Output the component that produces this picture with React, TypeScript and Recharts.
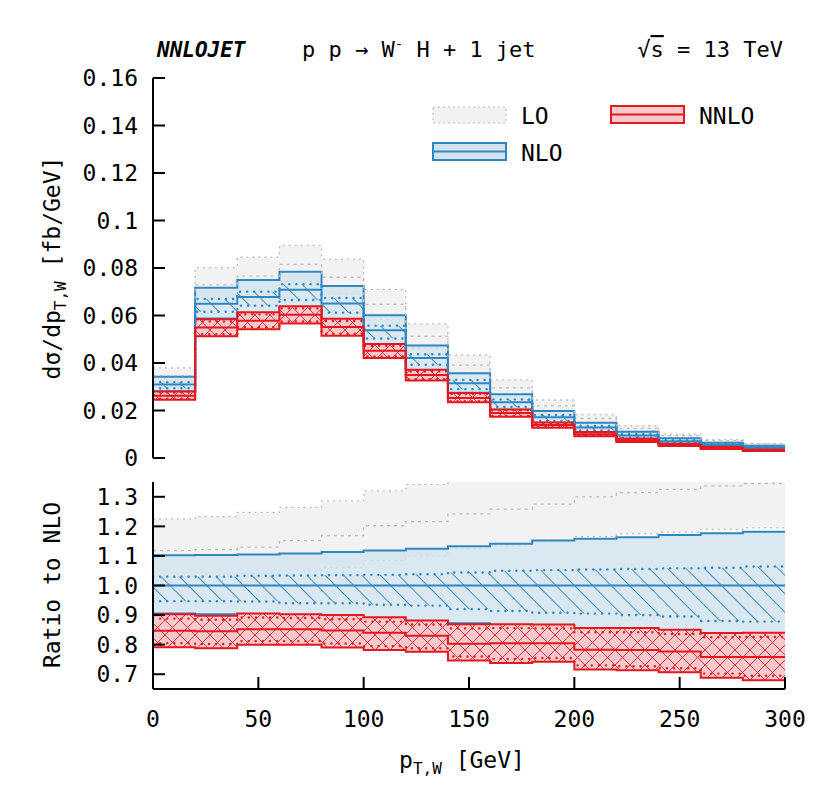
import React from 'react';
import { ComposedChart, Area, Line, XAxis, YAxis } from 'recharts';

// ---------------- data ----------------
const binEdges = [0, 20, 40, 60, 80, 100, 120, 140, 160, 180, 200, 220, 240, 260, 280, 300];
// NLO central value per bin [fb/GeV]
const nloCentral = [0.031, 0.065, 0.0678, 0.0708, 0.0651, 0.0538, 0.0421, 0.0315, 0.0235, 0.0172, 0.0128, 0.0095, 0.0071, 0.0055, 0.0044];
// everything below is a ratio to NLO central
const loUp = [1.225, 1.233, 1.247, 1.264, 1.286, 1.32, 1.342, 1.375, 1.4, 1.42, 1.43, 1.43, 1.42, 1.4, 1.38];
const loCen = [1.118, 1.121, 1.13, 1.152, 1.169, 1.202, 1.216, 1.242, 1.258, 1.275, 1.3, 1.314, 1.325, 1.337, 1.345];
const loLow = [1.03, 1.035, 1.04, 1.05, 1.06, 1.085, 1.1, 1.124, 1.135, 1.15, 1.165, 1.175, 1.18, 1.19, 1.195];
const nloUp = [1.102, 1.103, 1.105, 1.108, 1.113, 1.118, 1.124, 1.133, 1.141, 1.152, 1.158, 1.163, 1.171, 1.177, 1.182];
const nloLow = [0.905, 0.903, 0.9, 0.897, 0.893, 0.885, 0.879, 0.872, 0.866, 0.858, 0.853, 0.848, 0.84, 0.83, 0.823];
const nloInUp = [1.03, 1.03, 1.033, 1.034, 1.035, 1.036, 1.038, 1.044, 1.05, 1.052, 1.054, 1.056, 1.058, 1.06, 1.064];
const nloInLow = [0.947, 0.947, 0.946, 0.94, 0.94, 0.935, 0.932, 0.92, 0.914, 0.908, 0.905, 0.9, 0.895, 0.88, 0.878];
const nnloUp = [0.903, 0.898, 0.905, 0.903, 0.9, 0.893, 0.882, 0.869, 0.869, 0.868, 0.856, 0.856, 0.85, 0.839, 0.84];
const nnloCen = [0.847, 0.845, 0.852, 0.852, 0.848, 0.84, 0.83, 0.803, 0.805, 0.805, 0.783, 0.782, 0.777, 0.758, 0.758];
const nnloLow = [0.791, 0.788, 0.8, 0.8, 0.79, 0.782, 0.776, 0.746, 0.738, 0.742, 0.716, 0.713, 0.707, 0.688, 0.68];
const nnloInUp = [0.888, 0.884, 0.892, 0.89, 0.886, 0.878, 0.868, 0.855, 0.856, 0.855, 0.842, 0.842, 0.836, 0.825, 0.826];
const nnloInLow = [0.805, 0.802, 0.812, 0.812, 0.804, 0.795, 0.788, 0.76, 0.752, 0.755, 0.73, 0.727, 0.72, 0.702, 0.695];

const xTicks = [0, 50, 100, 150, 200, 250, 300];
const xLabels = ['0', '50', '100', '150', '200', '250', '300'];
const topTicks = [0, 0.02, 0.04, 0.06, 0.08, 0.1, 0.12, 0.14, 0.16];
const topLabels = ['0', '0.02', '0.04', '0.06', '0.08', '0.1', '0.12', '0.14', '0.16'];
const ratioTicks = [0.7, 0.8, 0.9, 1.0, 1.1, 1.2, 1.3];
const ratioLabels = ['0.7', '0.8', '0.9', '1.0', '1.1', '1.2', '1.3'];

// ---------------- styles ----------------
const FONT = '"DejaVu Sans Mono", "Liberation Mono", monospace';
const FS = 23;
const BLUE = '#2f86c1';
const BLUE_FILL = '#d2e3ef';
const RED = '#e3191f';
const RED_FILL = '#f8cacd';
const GRAY_FILL = '#f2f2f2';
const GRAY_LINE = '#bdbdbd';
const TL = 12;

function buildRows(scale: number[] | null) {
  return binEdges.map((x, k) => {
    const i = Math.min(k, nloCentral.length - 1);
    const s = scale ? scale[i] : 1;
    return {
      x,
      lo: [loLow[i] * s, loUp[i] * s],
      loC: loCen[i] * s,
      nlo: [nloLow[i] * s, nloUp[i] * s],
      nloIn: [nloInLow[i] * s, nloInUp[i] * s],
      nloC: 1 * s,
      nnlo: [nnloLow[i] * s, nnloUp[i] * s],
      nnloIn: [nnloInLow[i] * s, nnloInUp[i] * s],
      nnloC: nnloCen[i] * s,
    };
  });
}
const topRows = buildRows(nloCentral);
const ratioRows = buildRows(null);

const labelOf = (ticks: number[], labels: string[], v: number) => {
  const idx = ticks.findIndex((t) => Math.abs(t - v) < 1e-9);
  return idx >= 0 ? labels[idx] : String(v);
};

const BottomTick = (withLabel: boolean) => (props: any) => {
  const { x, y, payload } = props;
  return (
    <g>
      <line x1={x} y1={y} x2={x} y2={y - TL} stroke="#000" strokeWidth={2} />
      {withLabel && (
        <text x={x} y={y + 38} textAnchor="middle" fontFamily={FONT} fontSize={FS} fill="#000">
          {labelOf(xTicks, xLabels, payload.value)}
        </text>
      )}
    </g>
  );
};
const TopTick = (props: any) => {
  const { x, y } = props;
  return <line x1={x} y1={y} x2={x} y2={y + TL} stroke="#000" strokeWidth={2} />;
};
const LeftTick = (ticks: number[], labels: string[]) => (props: any) => {
  const { x, y, payload } = props;
  return (
    <g>
      <line x1={x} y1={y} x2={x + TL} y2={y} stroke="#000" strokeWidth={2} />
      <text x={x - 15} y={y} dy="0.36em" textAnchor="end" fontFamily={FONT} fontSize={FS} fill="#000">
        {labelOf(ticks, labels, payload.value)}
      </text>
    </g>
  );
};
const RightTick = (props: any) => {
  const { x, y } = props;
  return <line x1={x} y1={y} x2={x - TL} y2={y} stroke="#000" strokeWidth={2} />;
};

const Patterns = ({ p }: { p: string }) => (
  <defs>
    <pattern id={`${p}hatch`} patternUnits="userSpaceOnUse" width={10} height={13} patternTransform="rotate(45)">
      <line x1={0} y1={0.5} x2={10} y2={0.5} stroke={BLUE} strokeWidth={0.9} />
    </pattern>
    <pattern id={`${p}cross`} patternUnits="userSpaceOnUse" width={15} height={15}>
      <rect x={0} y={0} width={15} height={15} fill={RED_FILL} />
      <line x1={0} y1={0} x2={15} y2={15} stroke={RED} strokeWidth={0.9} />
      <line x1={15} y1={0} x2={0} y2={15} stroke={RED} strokeWidth={0.9} />
    </pattern>
  </defs>
);

const axisLine = { stroke: '#000', strokeWidth: 2 };

function Series(p: string) {
  return [
    <Area key="lo" xAxisId="b" yAxisId="l" type="stepAfter" dataKey="lo" fill={GRAY_FILL} fillOpacity={1}
      stroke={GRAY_LINE} strokeWidth={1.3} strokeDasharray="2 4" dot={false} activeDot={false} isAnimationActive={false} />,
    <Line key="loC" xAxisId="b" yAxisId="l" type="stepAfter" dataKey="loC" stroke={GRAY_LINE} strokeWidth={1.3}
      strokeDasharray="3 4" dot={false} activeDot={false} isAnimationActive={false} />,
    <Area key="nlo" xAxisId="b" yAxisId="l" type="stepAfter" dataKey="nlo" fill={BLUE_FILL} fillOpacity={0.82}
      stroke={BLUE} strokeWidth={2} dot={false} activeDot={false} isAnimationActive={false} />,
    <Area key="nloIn" xAxisId="b" yAxisId="l" type="stepAfter" dataKey="nloIn" fill={`url(#${p}hatch)`} fillOpacity={1}
      stroke={BLUE} strokeWidth={2.4} strokeDasharray="0.1 7" strokeLinecap="round" dot={false} activeDot={false} isAnimationActive={false} />,
    <Line key="nloC" xAxisId="b" yAxisId="l" type="stepAfter" dataKey="nloC" stroke={BLUE} strokeWidth={2}
      dot={false} activeDot={false} isAnimationActive={false} />,
    <Area key="nnlo" xAxisId="b" yAxisId="l" type="stepAfter" dataKey="nnlo" fill={`url(#${p}cross)`} fillOpacity={1}
      stroke={RED} strokeWidth={2} dot={false} activeDot={false} isAnimationActive={false} />,
    <Area key="nnloIn" xAxisId="b" yAxisId="l" type="stepAfter" dataKey="nnloIn" fill="none" fillOpacity={0}
      stroke={RED} strokeWidth={2.4} strokeDasharray="0.1 7" strokeLinecap="round" dot={false} activeDot={false} isAnimationActive={false} />,
    <Line key="nnloC" xAxisId="b" yAxisId="l" type="stepAfter" dataKey="nnloC" stroke={RED} strokeWidth={2}
      dot={false} activeDot={false} isAnimationActive={false} />,
  ];
}

const Overlay = () => (
  <svg width={830} height={806} style={{ position: 'absolute', left: 0, top: 0, pointerEvents: 'none' }}>
    <g fontFamily={FONT} fontSize={FS} fill="#000">
      <text x={157} y={57} fontWeight="bold" fontStyle="italic" fontSize={21}>NNLOJET</text>
      <text x={302} y={57} fontSize={22}>
        p p → W<tspan dy={-8} fontSize={14}>-</tspan><tspan dy={8}> H + 1 jet</tspan>
      </text>
      <text x={783} y={57} textAnchor="end" fontSize={22}>
        √<tspan style={{ textDecoration: 'overline' }}>s</tspan> = 13 TeV
      </text>
      {/* legend */}
      <rect x={433} y={107} width={73} height={16} fill={GRAY_FILL} stroke={GRAY_LINE} strokeWidth={1.2} strokeDasharray="2 3" />
      <text x={521} y={124}>LO</text>
      <rect x={611} y={106} width={73} height={17} fill={RED_FILL} stroke={RED} strokeWidth={2} />
      <line x1={611} y1={114.5} x2={684} y2={114.5} stroke={RED} strokeWidth={2} />
      <text x={699} y={124}>NNLO</text>
      <rect x={433} y={143} width={73} height={17} fill={BLUE_FILL} stroke={BLUE} strokeWidth={2} />
      <line x1={433} y1={151.5} x2={506} y2={151.5} stroke={BLUE} strokeWidth={2} />
      <text x={521} y={161}>NLO</text>
      {/* axis titles */}
      <text transform="translate(60,268) rotate(-90)" textAnchor="middle">
        dσ/dp<tspan dy={6} fontSize={16}>T,W</tspan><tspan dy={-6}> [fb/GeV]</tspan>
      </text>
      <text transform="translate(60,585) rotate(-90)" textAnchor="middle">Ratio to NLO</text>
      <text x={462} y={768} textAnchor="middle">
        p<tspan dy={6} fontSize={16}>T,W</tspan><tspan dy={-6}> [GeV]</tspan>
      </text>
    </g>
  </svg>
);

export default function App() {
  return (
    <div style={{ position: 'absolute', left: 0, top: 0, width: 830, height: 806, background: '#fff' }}>
      <div style={{ position: 'absolute', left: 0, top: 0 }}>
        <ComposedChart width={830} height={472} data={topRows} margin={{ top: 78, right: 45, bottom: 14, left: 0 }}>
          <Patterns p="t" />
          <XAxis xAxisId="b" dataKey="x" type="number" domain={[0, 300]} ticks={xTicks} interval={0}
            orientation="bottom" height={0} tickSize={0} tickMargin={0} tickLine={false} axisLine={axisLine}
            tick={BottomTick(false)} allowDataOverflow />
          <XAxis xAxisId="t" dataKey="x" type="number" domain={[0, 300]} ticks={xTicks} interval={0}
            orientation="top" height={0} tickSize={0} tickMargin={0} tickLine={false} axisLine={axisLine}
            tick={TopTick} allowDataOverflow />
          <YAxis yAxisId="l" type="number" domain={[0, 0.16]} ticks={topTicks} interval={0} orientation="left"
            width={153} tickSize={0} tickMargin={0} tickLine={false} axisLine={axisLine}
            tick={LeftTick(topTicks, topLabels)} allowDataOverflow />
          <YAxis yAxisId="r" type="number" domain={[0, 0.16]} ticks={topTicks} interval={0} orientation="right"
            width={0} tickSize={0} tickMargin={0} tickLine={false} axisLine={axisLine} tick={RightTick} allowDataOverflow />
          {Series('t')}
        </ComposedChart>
      </div>
      <div style={{ position: 'absolute', left: 0, top: 470 }}>
        <ComposedChart width={830} height={336} data={ratioRows} margin={{ top: 12, right: 45, bottom: 0, left: 0 }}>
          <Patterns p="r" />
          <XAxis xAxisId="b" dataKey="x" type="number" domain={[0, 300]} ticks={xTicks} interval={0}
            orientation="bottom" height={117} tickSize={0} tickMargin={0} tickLine={false} axisLine={axisLine}
            tick={BottomTick(true)} allowDataOverflow />
          <XAxis xAxisId="t" dataKey="x" type="number" domain={[0, 300]} ticks={xTicks} interval={0}
            orientation="top" height={0} tickSize={0} tickMargin={0} tickLine={false} axisLine={axisLine}
            tick={TopTick} allowDataOverflow />
          <YAxis yAxisId="l" type="number" domain={[0.65, 1.35]} ticks={ratioTicks} interval={0} orientation="left"
            width={153} tickSize={0} tickMargin={0} tickLine={false} axisLine={axisLine}
            tick={LeftTick(ratioTicks, ratioLabels)} allowDataOverflow />
          <YAxis yAxisId="r" type="number" domain={[0.65, 1.35]} ticks={ratioTicks} interval={0} orientation="right"
            width={0} tickSize={0} tickMargin={0} tickLine={false} axisLine={axisLine} tick={RightTick} allowDataOverflow />
          {Series('r')}
        </ComposedChart>
      </div>
      <Overlay />
    </div>
  );
}
